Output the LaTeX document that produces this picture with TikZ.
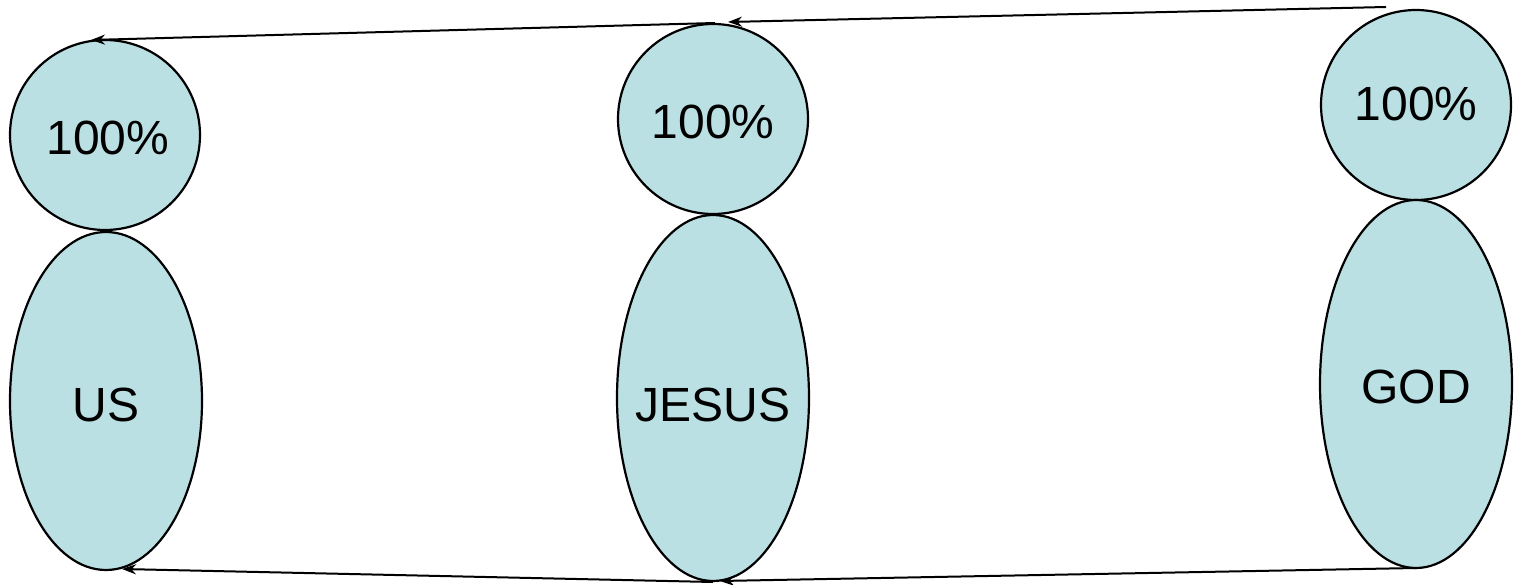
\documentclass[tikz,border=0pt]{standalone}
\usepackage{fontspec}
\setmainfont{Liberation Sans}
\usetikzlibrary{shapes.geometric,arrows.meta}
\definecolor{fillc}{HTML}{BBE0E3}
\begin{document}
\begin{tikzpicture}[x=1pt,y=-1pt,
  blob/.style={draw=black,line width=2.2pt,fill=fillc,inner sep=0pt},
  head/.style={blob,circle,minimum size=190pt},
  body/.style={blob,ellipse,minimum width=192pt},
  lbl/.style={font=\fontsize{48}{56}\selectfont},
  conn/.style={line width=2pt,-{Stealth[length=14pt,width=10pt]}}]
\useasboundingbox (0,0) rectangle (1521,585);
% circles
\node[head] (uc) at (105,135) {};
\node[head] (jc) at (713,119) {};
\node[head] (gc) at (1416,105) {};
% ellipses
\node[body,minimum height=338pt] (ue) at (106,401) {};
\node[body,minimum height=366pt] (je) at (713,398) {};
\node[body,minimum height=368pt] (ge) at (1416,384) {};
% texts
\node[lbl] (ut) at (108,138) {100\%};
\node[lbl] (jt) at (713,122) {100\%};
\node[lbl] (gt) at (1416,104) {100\%};
\node[lbl] (ul) at (106,405) {US};
\node[lbl] (jl) at (713,405) {JESUS};
\node[lbl] (gl) at (1416,387) {GOD};
% connector end points
\coordinate (t1s) at (1386,7);
\coordinate (t1e) at (728,22);
\coordinate (t2s) at (715,23);
\coordinate (t2e) at (91,40);
\coordinate (b1s) at (1416,568);
\coordinate (b1e) at (720,581);
\coordinate (b2s) at (713,582);
\coordinate (b2e) at (122,569);
\draw[conn] (t1s) -- (t1e);
\draw[conn] (t2s) -- (t2e);
\draw[conn] (b1s) -- (b1e);
\draw[conn] (b2s) -- (b2e);
\end{tikzpicture}
\end{document}
